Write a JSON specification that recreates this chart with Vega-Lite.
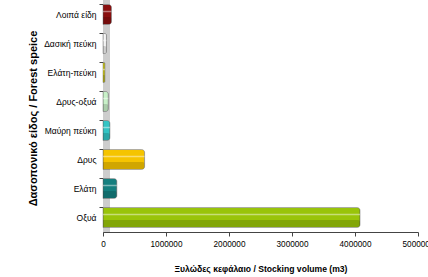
{
  "$schema": "https://vega.github.io/schema/vega-lite/v6.json",
  "width": 315,
  "height": 232,
  "autosize": "none",
  "padding": {"left": 103, "top": 0, "right": 10, "bottom": 45},
  "background": "white",
  "config": {"view": {"stroke": null}, "font": "Liberation Sans"},
  "data": {"values": [
    {"species": "Οξυά", "volume": 4080000, "color": "#99c40a"},
    {"species": "Ελάτη", "volume": 220000, "color": "#157f7f"},
    {"species": "Δρυς", "volume": 660000, "color": "#f5c400"},
    {"species": "Μαύρη πεύκη", "volume": 110000, "color": "#33c4c4"},
    {"species": "Δρυς-οξυά", "volume": 85000, "color": "#c8f0c8"},
    {"species": "Ελάτη-πεύκη", "volume": 30000, "color": "#e8e000"},
    {"species": "Δασική πεύκη", "volume": 55000, "color": "#f4f4f4"},
    {"species": "Λοιπά είδη", "volume": 135000, "color": "#8a0f0f"}
  ]},
  "encoding": {
    "y": {
      "field": "species", "type": "nominal",
      "sort": ["Λοιπά είδη", "Δασική πεύκη", "Ελάτη-πεύκη", "Δρυς-οξυά", "Μαύρη πεύκη", "Δρυς", "Ελάτη", "Οξυά"],
      "scale": {"paddingInner": 0.3, "paddingOuter": 0.15},
      "axis": {
        "title": "Δασοπονικό είδος / Forest speice",
        "titleFont": "Liberation Sans", "titleFontSize": 11, "titleFontWeight": "bold", "titleColor": "#000",
        "titleX": -65, "titleY": 118, "titleAngle": 270, "titleBaseline": "bottom", "titleAlign": "center",
        "labelFont": "Liberation Sans", "labelFontSize": 8.5, "labelColor": "#000", "labelPadding": 3,
        "bandPosition": 0, "tickSize": 4, "tickColor": "#444", "domainColor": "#444"
      }
    }
  },
  "layer": [
    {
      "mark": {"type": "rect", "color": "#cdcdcd"},
      "encoding": {"x": {"datum": 0, "type": "quantitative"}, "x2": {"datum": 110000}, "y": null}
    },
    {
      "mark": {"type": "bar", "size": 20, "cornerRadiusEnd": 3},
      "encoding": {
        "x": {
          "field": "volume", "type": "quantitative",
          "scale": {"domain": [0, 5000000]},
          "axis": {
            "title": "Ξυλώδες κεφάλαιο / Stocking volume (m3)",
            "titleFont": "Liberation Sans", "titleFontSize": 8.6, "titleFontWeight": "bold", "titleColor": "#000",
            "titlePadding": 17,
            "values": [0, 1000000, 2000000, 3000000, 4000000, 5000000],
            "format": "d", "grid": false,
            "labelFont": "Liberation Sans", "labelFontSize": 8.2, "labelColor": "#000", "labelFlush": false, "labelPadding": 4,
            "tickSize": 4, "tickColor": "#444", "domainColor": "#444"
          }
        },
        "color": {"field": "color", "type": "nominal", "scale": null},
        "stroke": {"value": "#555"}, "strokeWidth": {"value": 0.4}
      }
    },
    {
      "mark": {"type": "bar", "size": 7, "yOffset": 6, "color": "#000", "opacity": 0.15, "cornerRadiusEnd": 2},
      "encoding": {"x": {"field": "volume", "type": "quantitative"}}
    },
    {
      "mark": {"type": "bar", "size": 1.5, "yOffset": -3, "color": "#fff", "opacity": 0.45},
      "encoding": {"x": {"field": "volume", "type": "quantitative"}}
    }
  ]
}
